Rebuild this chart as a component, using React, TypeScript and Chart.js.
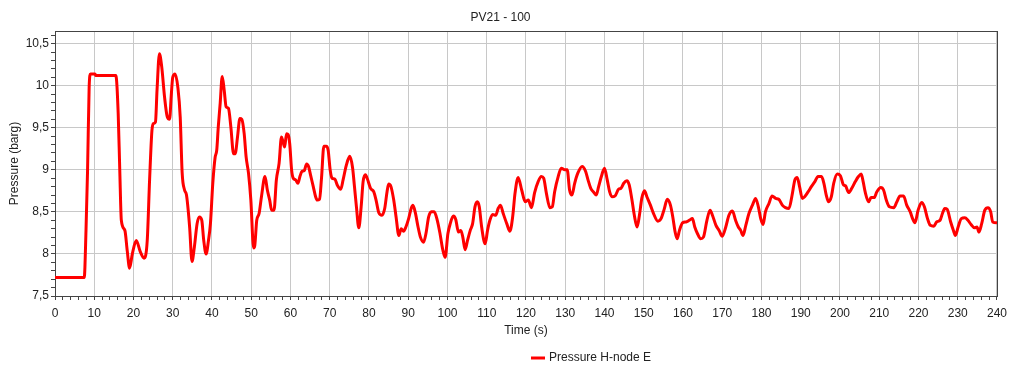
import React, { useEffect, useRef } from 'react';
import { Chart, registerables } from 'chart.js';

Chart.register(...registerables);

const CHART_TITLE = 'PV21 - 100';
const SERIES_LABEL = 'Pressure H-node E';
const X_TITLE = 'Time (s)';
const Y_TITLE = 'Pressure (barg)';

const X_MIN = 0;
const X_MAX = 240;
const Y_MIN = 7.5;
const Y_MAX = 10.65;

const TIME = [
  0, 7.45, 7.9, 8.3, 8.7, 9.05, 10.2, 10.4, 15.5, 16.1, 16.5, 16.9, 17.8, 18.4, 19.0, 19.7,
  20.7, 21.7, 22.7, 23.5, 24.1, 24.7, 25.1, 25.6, 26.0, 26.6, 27.2, 27.9, 28.6, 29.2, 29.6,
  30.0, 30.6, 31.3, 31.9, 32.4, 33.0, 33.5, 34.3, 34.9, 35.5, 36.2, 36.8, 37.4, 37.9, 38.5,
  39.1, 39.6, 40.2, 40.8, 41.2, 41.6, 42.1, 42.6, 43.1, 43.6, 44.2, 44.8, 45.5, 45.9, 46.5,
  47.1, 47.6, 48.2, 48.7, 49.3, 49.9, 50.6, 50.9, 51.4, 52.0, 52.6, 53.5, 54.1, 54.7, 55.2,
  55.8, 56.4, 57.1, 57.7, 58.0, 58.5, 59.0, 59.4, 59.8, 60.3, 60.7, 61.3, 61.9, 62.4, 62.9,
  63.5, 64.1, 64.6, 65.1, 65.8, 66.4, 66.8, 67.4, 67.9, 68.5, 69.1, 69.6, 70.1, 70.6, 71.3,
  71.9, 72.8, 73.4, 74.2, 75.1, 75.8, 76.3, 76.8, 77.4, 78.0, 78.5, 79.1, 79.6, 80.4, 81.2,
  81.8, 82.5, 83.3, 84.0, 84.6, 85.0, 85.6, 86.3, 86.9, 87.6, 88.2, 88.8, 89.4, 90.1, 90.8,
  91.2, 91.8, 92.5, 93.1, 93.9, 94.5, 95.2, 95.9, 96.6, 97.4, 98.1, 98.8, 99.4, 100.1, 100.7,
  101.5, 102.1, 102.8, 103.4, 103.9, 104.5, 105.1, 105.8, 106.4, 107.0, 107.6, 108.1, 108.7,
  109.6, 110.2, 110.8, 111.5, 112.3, 112.9, 113.5, 114.2, 115.1, 115.9, 116.6, 117.2, 118.0,
  118.9, 119.8, 120.6, 121.4, 122.2, 123.1, 123.9, 124.5, 125.2, 126.1, 126.7, 127.3, 128.2,
  129.0, 129.9, 130.5, 131.1, 131.7, 132.4, 133.2, 134.3, 135.2, 135.8, 136.5, 137.3, 137.9,
  138.5, 139.2, 140.0, 140.7, 141.3, 141.9, 142.7, 143.6, 144.2, 144.9, 145.7, 146.3, 147.0,
  147.6, 148.3, 148.9, 149.5, 150.2, 150.8, 151.7, 152.5, 153.6, 154.4, 155.2, 156.0, 156.8,
  157.4, 158.0, 158.5, 159.1, 159.9, 160.8, 161.6, 162.4, 163.0, 163.7, 164.5, 165.2, 166.1,
  166.9, 167.5, 168.4, 169.2, 170.0, 170.9, 171.7, 172.6, 173.4, 174.1, 174.7, 175.3, 176.0,
  176.8, 177.7, 178.5, 179.2, 179.8, 180.4, 181.0, 181.9, 182.7, 183.6, 184.4, 185.3, 186.1,
  187.0, 187.8, 188.5, 189.1, 189.7, 190.4, 191.0, 191.9, 192.7, 193.6, 194.4, 195.3, 195.9,
  196.5, 197.1, 197.8, 198.4, 199.3, 200.1, 200.9, 201.4, 202.2, 203.0, 203.9, 204.7, 205.4,
  205.9, 206.4, 207.3, 207.9, 208.7, 209.4, 210.4, 211.1, 211.8, 212.6, 213.7, 214.5, 215.3,
  216.2, 217.0, 217.9, 218.5, 219.1, 219.9, 220.8, 221.5, 222.3, 223.0, 223.9, 224.6, 225.5,
  226.1, 226.7, 227.3, 228.2, 228.9, 229.4, 230.1, 230.9, 231.8, 232.6, 233.4, 234.3, 234.9,
  235.4, 236.1, 236.9, 237.7, 238.4, 238.9, 240.0,
];

const PRESSURE = [
  7.72, 7.72, 8.28, 9.0, 9.98, 10.14, 10.14, 10.12, 10.12, 9.67, 9.0, 8.4, 8.28, 8.04, 7.83, 8.0,
  8.16, 8.03, 7.95, 8.16, 8.88, 9.47, 9.55, 9.57, 9.95, 10.38, 10.22, 9.87, 9.63, 9.6, 9.87,
  10.1, 10.14, 9.98, 9.63, 8.96, 8.76, 8.7, 8.32, 7.91, 8.08, 8.36, 8.44, 8.4, 8.16, 8.0,
  8.16, 8.36, 8.84, 9.15, 9.23, 9.51, 9.8, 10.11, 9.95, 9.75, 9.73, 9.51, 9.19, 9.19, 9.39,
  9.61, 9.6, 9.43, 9.15, 8.96, 8.64, 8.07, 8.1, 8.4, 8.48, 8.68, 8.92, 8.76, 8.64, 8.52,
  8.52, 8.88, 9.08, 9.39, 9.35, 9.27, 9.43, 9.42, 9.31, 8.99, 8.9, 8.88, 8.84, 8.92, 8.98,
  8.99, 9.07, 9.04, 8.94, 8.8, 8.68, 8.64, 8.65, 8.9, 9.28, 9.28, 9.23, 9.0, 8.9, 8.89,
  8.82, 8.77, 8.88, 9.05, 9.16, 9.03, 8.8, 8.56, 8.31, 8.56, 8.86, 8.94, 8.89, 8.78, 8.74,
  8.64, 8.49, 8.46, 8.54, 8.74, 8.83, 8.8, 8.64, 8.44, 8.22, 8.3, 8.27, 8.32, 8.42, 8.55,
  8.58, 8.49, 8.32, 8.2, 8.14, 8.24, 8.44, 8.5, 8.5, 8.4, 8.24, 8.05, 7.96, 8.24, 8.36,
  8.45, 8.41, 8.26, 8.28, 8.2, 8.05, 8.16, 8.28, 8.36, 8.56, 8.62, 8.56, 8.32,
  8.12, 8.28, 8.4, 8.47, 8.46, 8.54, 8.58, 8.48, 8.36, 8.27, 8.44, 8.72, 8.91,
  8.76, 8.62, 8.64, 8.55, 8.73, 8.86, 8.92, 8.9, 8.72, 8.55, 8.56, 8.74, 8.92,
  9.02, 9.0, 9.0, 8.76, 8.7, 8.84, 8.96, 9.04, 8.98, 8.88, 8.78, 8.73, 8.7,
  8.8, 8.92, 9.02, 8.88, 8.74, 8.68, 8.69, 8.77, 8.78, 8.84, 8.87, 8.82, 8.64,
  8.46, 8.32, 8.46, 8.66, 8.75, 8.68, 8.58, 8.48, 8.39, 8.42, 8.53, 8.65, 8.58,
  8.44, 8.26, 8.18, 8.28, 8.37, 8.38, 8.4, 8.42, 8.32, 8.24, 8.18, 8.2, 8.4,
  8.52, 8.46, 8.34, 8.28, 8.21, 8.32, 8.46, 8.51, 8.4, 8.32, 8.28, 8.22, 8.34,
  8.48, 8.58, 8.66, 8.56, 8.42, 8.35, 8.5, 8.6, 8.69, 8.66, 8.65, 8.58, 8.55,
  8.54, 8.7, 8.88, 8.91, 8.8, 8.66, 8.68, 8.74, 8.8, 8.86, 8.92, 8.92, 8.84,
  8.7, 8.62, 8.68, 8.84, 8.95, 8.93, 8.82, 8.81, 8.73, 8.78, 8.86, 8.92, 8.95,
  8.86, 8.74, 8.62, 8.67, 8.67, 8.74, 8.79, 8.76, 8.64, 8.56, 8.55, 8.62, 8.69,
  8.69, 8.58, 8.5, 8.42, 8.37, 8.52, 8.61, 8.56, 8.42, 8.34, 8.33, 8.38, 8.4,
  8.48, 8.54, 8.53, 8.38, 8.28, 8.22, 8.32, 8.42, 8.43, 8.4, 8.35, 8.31, 8.32,
  8.26, 8.36, 8.52, 8.55, 8.5, 8.38, 8.37,
];

const FONT_FAMILY = '"Liberation Sans", Arial, sans-serif';
const TEXT_COLOR = '#222222';
const GRID_COLOR = '#c8c8c8';
const AXIS_COLOR = '#444444';
const LINE_COLOR = '#ff0000';

const isMultiple = (v: number, step: number) => Math.abs(v / step - Math.round(v / step)) < 1e-6;

export default function App() {
  const canvasRef = useRef<HTMLCanvasElement>(null);

  useEffect(() => {
    document.body.style.margin = '0';
    const canvas = canvasRef.current;
    if (!canvas) return;

    const framePlugin = {
      id: 'plotFrame',
      beforeDatasetsDraw(chart: any) {
        const { ctx, chartArea } = chart;
        ctx.save();
        ctx.strokeStyle = AXIS_COLOR;
        ctx.lineWidth = 1;
        ctx.strokeRect(
          Math.round(chartArea.left) + 0.5,
          Math.round(chartArea.top) + 0.5,
          Math.round(chartArea.right - chartArea.left),
          Math.round(chartArea.bottom - chartArea.top)
        );
        ctx.restore();
      },
    };

    const legendPlugin = {
      id: 'bottomLegend',
      afterDraw(chart: any) {
        const { ctx } = chart;
        const label = chart.data.datasets[0].label;
        ctx.save();
        ctx.font = `12px ${FONT_FAMILY}`;
        const y = 358;
        const x0 = 531;
        ctx.strokeStyle = LINE_COLOR;
        ctx.lineWidth = 3;
        ctx.beginPath();
        ctx.moveTo(x0, y);
        ctx.lineTo(x0 + 14, y);
        ctx.stroke();
        ctx.fillStyle = TEXT_COLOR;
        ctx.textBaseline = 'middle';
        ctx.textAlign = 'left';
        ctx.fillText(label, x0 + 18, y);
        ctx.restore();
      },
    };

    const chart = new Chart(canvas, {
      type: 'line',
      data: {
        datasets: [
          {
            label: SERIES_LABEL,
            data: TIME.map((t, i) => ({ x: t, y: PRESSURE[i] })),
            borderColor: LINE_COLOR,
            backgroundColor: LINE_COLOR,
            borderWidth: 3,
            pointRadius: 0,
            cubicInterpolationMode: 'monotone',
            fill: false,
          },
        ],
      },
      options: {
        responsive: false,
        animation: false,
        events: [],
        layout: { padding: { top: 0, left: 0, right: 12, bottom: 33 } },
        plugins: {
          legend: { display: false },
          tooltip: { enabled: false },
          title: {
            display: true,
            text: CHART_TITLE,
            color: TEXT_COLOR,
            font: { family: FONT_FAMILY, size: 12, weight: 'normal' },
            padding: { top: 10, bottom: 6.6 },
          },
        },
        scales: {
          x: {
            type: 'linear',
            min: X_MIN,
            max: X_MAX,
            afterFit: (scale: any) => {
              scale.height = 42;
            },
            border: { color: AXIS_COLOR, width: 1 },
            grid: {
              color: (ctx: any) => (ctx.tick && isMultiple(ctx.tick.value, 10) ? GRID_COLOR : 'rgba(0,0,0,0)'),
              tickColor: AXIS_COLOR,
              tickLength: 4,
              lineWidth: 1,
            },
            ticks: {
              stepSize: 2,
              autoSkip: false,
              maxRotation: 0,
              minRotation: 0,
              includeBounds: false,
              padding: 6,
              color: TEXT_COLOR,
              font: { family: FONT_FAMILY, size: 12 },
              callback: (v: any) => (isMultiple(Number(v), 10) ? String(Math.round(Number(v))) : ''),
            },
            title: {
              display: true,
              text: X_TITLE,
              color: TEXT_COLOR,
              font: { family: FONT_FAMILY, size: 12 },
              padding: { top: 0, bottom: 0 },
            },
          },
          y: {
            type: 'linear',
            min: Y_MIN,
            max: Y_MAX,
            afterFit: (scale: any) => {
              scale.width = 55;
            },
            border: { color: AXIS_COLOR, width: 1 },
            grid: {
              color: (ctx: any) => (ctx.tick && isMultiple(ctx.tick.value, 0.5) ? GRID_COLOR : 'rgba(0,0,0,0)'),
              tickColor: AXIS_COLOR,
              tickLength: 4,
              lineWidth: 1,
            },
            ticks: {
              stepSize: 0.1,
              autoSkip: false,
              includeBounds: false,
              padding: 2,
              color: TEXT_COLOR,
              font: { family: FONT_FAMILY, size: 12 },
              callback: (v: any) => {
                const n = Number(v);
                if (!isMultiple(n, 0.5)) return '';
                return String(Math.round(n * 10) / 10).replace('.', ',');
              },
            },
            title: {
              display: true,
              text: Y_TITLE,
              color: TEXT_COLOR,
              font: { family: FONT_FAMILY, size: 12 },
              padding: { top: 7, bottom: 0 },
            },
          },
        },
      },
      plugins: [framePlugin, legendPlugin],
    } as any);

    return () => {
      chart.destroy();
    };
  }, []);

  return (
    <div style={{ width: 1013, height: 371, background: '#ffffff' }}>
      <canvas ref={canvasRef} width={1013} height={371} style={{ display: 'block' }} />
    </div>
  );
}
